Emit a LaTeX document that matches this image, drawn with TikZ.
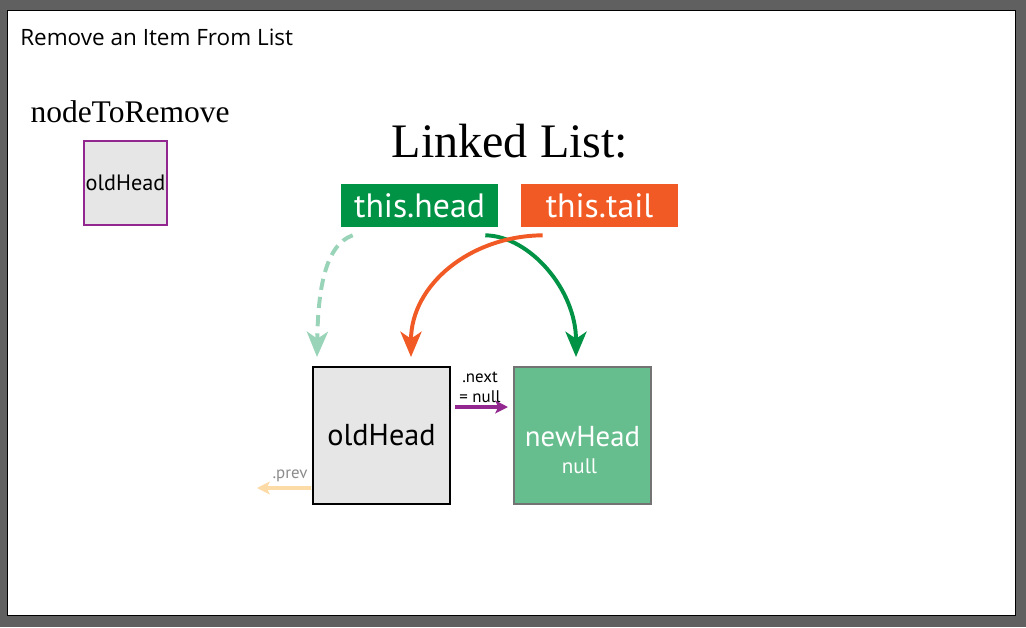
\documentclass[tikz,border=0pt]{standalone}
\usepackage{fontspec}
\setmainfont{PT Sans}
\newfontfamily\titlefont{Open Sans}
\newfontfamily\seriffont{Liberation Serif}
\usetikzlibrary{positioning,calc,arrows.meta}
\definecolor{framegray}{RGB}{96,96,96}
\definecolor{headgreen}{RGB}{0,146,69}
\definecolor{tailorange}{RGB}{241,90,36}
\definecolor{nodegreen}{RGB}{102,190,142}
\definecolor{boxgray}{RGB}{230,230,230}
\definecolor{linkpurple}{RGB}{146,39,143}
\definecolor{prevorange}{RGB}{253,219,166}
\definecolor{dashgreen}{RGB}{153,212,185}

\begin{document}
\begin{tikzpicture}[
    x=0.025cm, y=-0.025cm,
    listnode/.style={rectangle, minimum width=3.425cm, minimum height=3.425cm, line width=1.4pt, inner sep=0pt},
    pointer/.style={rectangle, minimum width=3.925cm, minimum height=1.075cm, text=white, font=\fontsize{24}{28}\selectfont},
    bigptr/.style={line width=2.8pt, -{Stealth[length=18pt, width=15pt, inset=5pt]}},
    smallptr/.style={line width=2.8pt, -{Stealth[length=9pt, width=9pt, inset=2pt]}},
    label/.style={font=\fontsize{12}{14}\selectfont, inner sep=0pt}
]

% Frame
\fill[framegray] (0,0) rectangle (1026,627);
\draw[fill=white, line width=0.7pt] (7,10) rectangle (1015,615);

% Title
\node[anchor=west, inner sep=0pt, font=\titlefont\fontsize{16}{18}\selectfont] (title) at (20,37) {Remove an Item From List};

% Node to remove
\node[font=\seriffont\fontsize{22.4}{26}\selectfont] (removelabel) at (130,112) {nodeToRemove};
\node[rectangle, draw=linkpurple, fill=boxgray, line width=1.4pt, minimum width=2.075cm, minimum height=2.1cm, font=\fontsize{15.8}{18}\selectfont, inner sep=0pt] (removebox) at (125.5,183) {oldHead};

% Linked list pointers
\node[font=\seriffont\fontsize{34.2}{40}\selectfont] (listlabel) at (510,141) {Linked List:};
\node[pointer, fill=headgreen] (head) at (419.5,205.5) {this.head};
\node[pointer, fill=tailorange] (tail) at (599.5,205.5) {this.tail};

% List nodes
\node[listnode, draw=black, fill=boxgray, font=\fontsize{21.5}{24}\selectfont] (oldhead) at (381.5,435.5) {oldHead};
\node[listnode, draw=black!55, fill=nodegreen] (newhead) at (582.5,435.5) {};
\node[text=white, font=\fontsize{20.5}{24}\selectfont] (newheadname) at ($(newhead.center)+(0,1)$) {newHead};
\node[text=white, font=\fontsize{15}{18}\selectfont] (newheadnull) at ($(newhead.center)+(-3,31)$) {null};

% Pointer arrows
\draw[bigptr, dashgreen, dash pattern=on 8pt off 5pt] ($(head.south west)+(12,8)$) .. controls (325,245) and (318,290) .. ($(oldhead.north west)+(5,-9)$);
\draw[bigptr, headgreen] ($(head.south east)+(-13,8)$) .. controls (530,236) and (576,290) .. ($(newhead.north)+(-6.5,-9)$);
\draw[bigptr, tailorange] ($(tail.south west)+(22,8)$) .. controls (470,236) and (411,285) .. ($(oldhead.north)+(29.5,-9)$);

% Next and prev
\draw[smallptr, linkpurple] ($(oldhead.east)+(4,-28.5)$) -- ($(newhead.west)+(-5,-28.5)$);
\node[label, align=center] (nextlabel) at (480,387) {.next\\= null};
\coordinate (prevend) at (257,488);
\draw[smallptr, prevorange] ($(oldhead.west)+(-1,52.5)$) -- (prevend);
\node[label, text=black!45] (prevlabel) at (290,476) {.prev};

\end{tikzpicture}
\end{document}
